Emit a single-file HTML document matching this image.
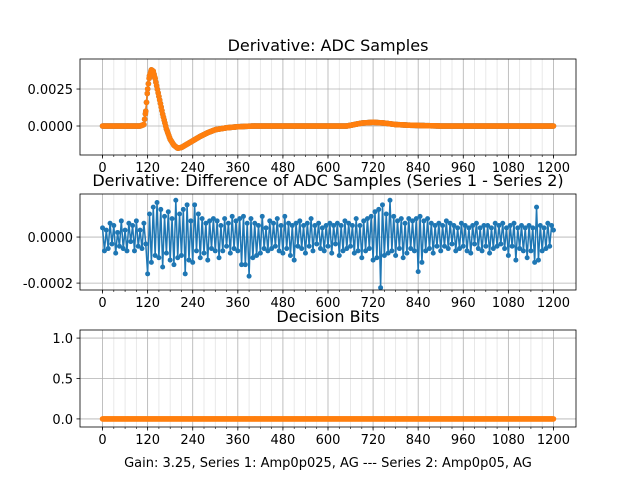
<!DOCTYPE html>
<html><head><meta charset="utf-8"><style>
body{margin:0;background:#fff}
svg text{font-family:"DejaVu Sans","Liberation Sans",sans-serif;fill:#000}
</style></head><body>
<svg id="fig" width="640" height="480" xmlns="http://www.w3.org/2000/svg"></svg>
<script>
// ---- data ----
const xTicks = [0,120,240,360,480,600,720,840,960,1080,1200];
const adcX = [0,100,110,115,120,125,130,135,140,150,160,170,180,190,200,210,220,240,260,280,300,330,360,400,650,670,690,720,750,780,820,900,1200];
const adcS1 = [0,0,0.0001,0.001,0.0025,0.0034,0.0038,0.0037,0.0032,0.002,0.0008,-0.0002,-0.0009,-0.0013,-0.0015,-0.00145,-0.0013,-0.001,-0.0007,-0.00045,-0.00025,-0.00012,-0.00005,0,0,0.0001,0.0002,0.00025,0.0002,0.0001,0.00005,0,0];
const adcS2 = [0,0,0.0001,0.001,0.0025,0.0034,0.0038,0.0037,0.0032,0.002,0.0008,-0.0002,-0.0009,-0.0013,-0.0015,-0.00145,-0.0013,-0.001,-0.0007,-0.00045,-0.00025,-0.00012,-0.00005,0,0,0.0001,0.0002,0.00025,0.0002,0.0001,0.00005,0,0];
const adcTicks = [0.0025,0.0];
const diffStep = 5;
const diffY = [
4,-6,3,-5,6,-3,5,-7,2,-4,7,-5,3,-6,6,-2,5,-6,7,-4,3,-5,6,-3,
-16,10,-11,13,-8,15,-9,12,-13,9,-7,11,-10,8,-12,16,-9,10,-8,12,-16,14,-10,7,
-11,14,-6,10,-9,8,-7,6,-10,7,-5,8,-6,7,-9,5,-6,8,-4,6,-7,9,-5,7,
-6,8,-12,9,-12,6,-17,8,-9,6,-8,5,-7,9,-5,4,-6,7,-5,6,-4,8,-6,5,
-7,9,-5,6,-8,5,-10,6,-4,7,-5,5,-7,6,-4,8,-6,5,-3,6,-5,4,-6,5,
-4,6,-7,5,-3,6,-8,5,-6,7,-5,6,-4,5,-7,8,-6,5,-9,7,-6,8,-5,9,
-10,11,-9,12,-22,14,-8,10,-7,16,-6,9,-8,7,-5,8,-9,6,-7,8,-5,7,-6,8,
-15,9,-11,7,-6,8,-5,6,-7,5,-4,6,-6,5,-4,7,-5,6,-3,5,-6,4,-5,6,
-4,5,-6,4,-7,5,-3,6,-5,4,-6,5,-4,5,-7,4,-5,6,-4,5,-3,6,-5,4,
-8,5,-4,6,-10,4,-5,5,-6,4,-9,5,-6,4,-11,13,-10,5,-6,4,-5,6,-4,5,
3];
const diffTicks = [0.0,-0.0002];
const bitX = [0,1200];
const bitY = [0,0];
const bitTicks = [1.0,0.5,0.0];

// ---- drawing ----
const NS="http://www.w3.org/2000/svg", svg=document.getElementById('fig');
function el(t,a,p){const e=document.createElementNS(NS,t);for(const k in a)e.setAttribute(k,a[k]);(p||svg).appendChild(e);return e;}
const L=80,R=576,X0=-60,X1=1260;
const sx=v=>L+(v-X0)/(X1-X0)*(R-L);
function axes(name,top,bot,y0,y1,yt,fmt,title){
  const g=el('g',{});
  
  
  const sy=v=>bot-(v-y0)/(y1-y0)*(bot-top);
  for(let v=0;v<=1200;v+=30){ if(v%120) el('line',{x1:sx(v),x2:sx(v),y1:top,y2:bot,stroke:'#e3e3e3','stroke-width':0.8},g);
    el('line',{x1:sx(v),x2:sx(v),y1:bot,y2:bot+2,stroke:'#000','stroke-width':0.6},g);}
  xTicks.forEach(v=>{el('line',{x1:sx(v),x2:sx(v),y1:top,y2:bot,stroke:'#b0b0b0','stroke-width':0.8},g);
    el('line',{x1:sx(v),x2:sx(v),y1:bot,y2:bot+3.5,stroke:'#000','stroke-width':0.8},g);
    const t=el('text',{x:sx(v),y:bot+17,'font-size':13,'text-anchor':'middle'},g);t.textContent=v;
    
    });
  yt.forEach(v=>{el('line',{x1:L,x2:R,y1:sy(v),y2:sy(v),stroke:'#b0b0b0','stroke-width':0.8},g);
    el('line',{x1:L-3.5,x2:L,y1:sy(v),y2:sy(v),stroke:'#000','stroke-width':0.8},g);
    const t=el('text',{x:L-7,y:sy(v)+5,'font-size':13,'text-anchor':'end'},g);t.textContent=fmt(v);
    
    });
  const tt=el('text',{x:(L+R)/2,y:top-8,'font-size':16,'text-anchor':'middle'},g);tt.textContent=title;
  
  
  return {g,sy,top,bot};
}
function series(ax,xs,ys,color,name,step){
  const pts=xs.map((x,i)=>[sx(x),ax.sy(ys[i])]);
  const p=el('polyline',{points:pts.map(q=>q.join(',')).join(' '),fill:'none',stroke:color,'stroke-width':1.5},ax.g);
  
  
  if(step){
    for(let i=0;i<xs.length-1;i++){
      for(let x=xs[i];x<xs[i+1];x+=step){const f=(x-xs[i])/(xs[i+1]-xs[i]);
        el('circle',{cx:sx(x),cy:ax.sy(ys[i]+f*(ys[i+1]-ys[i])),r:2.8,fill:color},ax.g);}
    }
    el('circle',{cx:pts[pts.length-1][0],cy:pts[pts.length-1][1],r:2.8,fill:color},ax.g);
  } else pts.forEach(q=>el('circle',{cx:q[0],cy:q[1],r:2.5,fill:color},ax.g));
}
const fmt4=v=>v.toFixed(4);
const a1=axes('adc-samples-axes',59,155,-0.00196,0.00453,adcTicks,fmt4,'Derivative: ADC Samples');
series(a1,adcX,adcS1,'#1f77b4','series-1-line',2);
series(a1,adcX,adcS2,'#ff7f0e','series-2-line',2);
const a2=axes('difference-axes',194,290,-0.00023,0.000187,diffTicks,fmt4,'Derivative: Difference of ADC Samples (Series 1 - Series 2)');
series(a2,diffY.map((v,i)=>i*diffStep),diffY.map(v=>v*1e-5),'#1f77b4','difference-line',0);
const a3=axes('decision-bits-axes',330,427,-0.1,1.1,bitTicks,v=>v.toFixed(1),'Decision Bits');
series(a3,bitX,bitY,'#ff7f0e','decision-bits-line',2);
[a1,a2,a3].forEach(a=>el('rect',{x:L,y:a.top,width:R-L,height:a.bot-a.top,fill:'none',stroke:'#000','stroke-width':0.8},a.g));
const xl=el('text',{x:(L+R)/2,y:467,'font-size':13,'text-anchor':'middle'});
xl.textContent='Gain: 3.25, Series 1: Amp0p025, AG --- Series 2: Amp0p05, AG';


</script>
</body></html>
